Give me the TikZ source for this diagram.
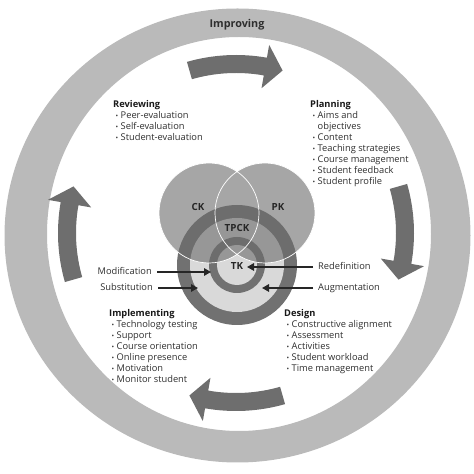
\documentclass[tikz,border=0pt]{standalone}
\usepackage{fontspec}
\setmainfont{Open Sans}
\usetikzlibrary{arrows.meta}
\definecolor{ringgray}{HTML}{BABABA}
\definecolor{cyclegray}{HTML}{6E6E6E}
\definecolor{ringdark}{HTML}{717171}
\definecolor{ringlight}{HTML}{D9D9D9}
\definecolor{venngray}{HTML}{6B6B6B}
\definecolor{txtgray}{HTML}{2E2E2E}
\newcommand{\bul}{\hspace*{2.5pt}\makebox[5pt][l]{\raisebox{0.6pt}{\scalebox{0.75}{\textbullet}}}}
\newcommand{\indt}{\hspace*{7.5pt}}
\newcommand{\hd}[1]{{\bfseries\color{black!90}#1}}
\tikzset{
  phase/.style={inner sep=0pt, align=left, anchor=north west, text=txtgray,
    font=\fontsize{9.3}{11}\selectfont},
  tpack/.style={inner sep=0pt, font=\fontsize{9.8}{11}\selectfont\bfseries, text=black!85},
  samr/.style={inner sep=0pt, text=txtgray, text height=6.8pt, text depth=1.9pt,
    font=\fontsize{9.3}{11}\selectfont},
  samrarrow/.style={-{Triangle[length=7pt,width=7.5pt]}, line width=1.5pt, black!85,
    shorten <=5pt},
}
\begin{document}
\begin{tikzpicture}[x=1pt,y=1pt]
    \useasboundingbox (0,0) rectangle (474,474);
    % improving ring
    \fill[ringgray, even odd rule] (237.5,238.5) ellipse [x radius=233, y radius=227]
        (239,240) ellipse [x radius=192, y radius=197];
    \node[tpack, font=\fontsize{10.8}{12}\selectfont\bfseries, text=txtgray] (improving) at (237,449) {Improving};
    %
    % cycle arrows
    \begin{scope}[shift={(236,241)}]
    \foreach \a in {90,0,-90,180}
        \fill[cyclegray] (\a+16:178) arc[start angle=\a+16, end angle=\a-10, radius=178]
            -- (\a-10:191) -- (\a-16:169) -- (\a-10:147) -- (\a-10:160)
            arc[start angle=\a-10, end angle=\a+16, radius=160] -- cycle;
    \end{scope}
    %
    % TK rings
    \fill[ringdark] (237,209) circle (60);
    \fill[ringlight] (237,209) circle (47);
    \fill[ringdark] (237,209) circle (28);
    \fill[ringlight] (237,209) circle (20);
    %
    % CK and PK
    \fill[venngray, fill opacity=0.6] (209,261) circle (50) (265,261) circle (50);
    \draw[white, line width=0.7pt] (209,261) circle (50) (265,261) circle (50);
    \node[tpack] (ck) at (198,267) {CK};
    \node[tpack] (pk) at (278,267) {PK};
    \node[tpack] (tpck) at (237,246) {TPCK};
    \node[tpack] (tk) at (237,208) {TK};
    %
    % SAMR
    \node[samr, anchor=east] (modif) at (152,202) {Modification};
    \node[samr, anchor=east] (subst) at (153,186) {Substitution};
    \node[samr, anchor=west] (redef) at (318,207) {Redefinition};
    \node[samr, anchor=west] (augm) at (318,186) {Augmentation};
    \coordinate (modiftip) at (211,202);
    \coordinate (substtip) at (198,186);
    \coordinate (redeftip) at (247,207);
    \coordinate (augmtip) at (262,186);
    \draw[samrarrow] (modif) -- (modiftip);
    \draw[samrarrow] (subst) -- (substtip);
    \draw[samrarrow] (redef) -- (redeftip);
    \draw[samrarrow] (augm) -- (augmtip);
    %
    % phases
    \node[phase] (reviewing) at (113,373.5) {\hd{Reviewing}\\ \bul Peer-evaluation\\
        \bul Self-evaluation\\ \bul Student-evaluation};
    \node[phase] (planning) at (310,373.5) {\hd{Planning}\\ \bul Aims and\\ \indt objectives\\
        \bul Content\\ \bul Teaching strategies\\ \bul Course management\\
        \bul Student feedback\\ \bul Student profile};
    \node[phase] (implementing) at (109,164.5) {\hd{Implementing}\\ \bul Technology testing\\
        \bul Support\\ \bul Course orientation\\ \bul Online presence\\ \bul Motivation\\
        \bul Monitor student};
    \node[phase] (design) at (284,164.5) {\hd{Design}\\ \bul Constructive alignment\\
        \bul Assessment\\ \bul Activities\\ \bul Student workload\\ \bul Time management};
\end{tikzpicture}
\end{document}
